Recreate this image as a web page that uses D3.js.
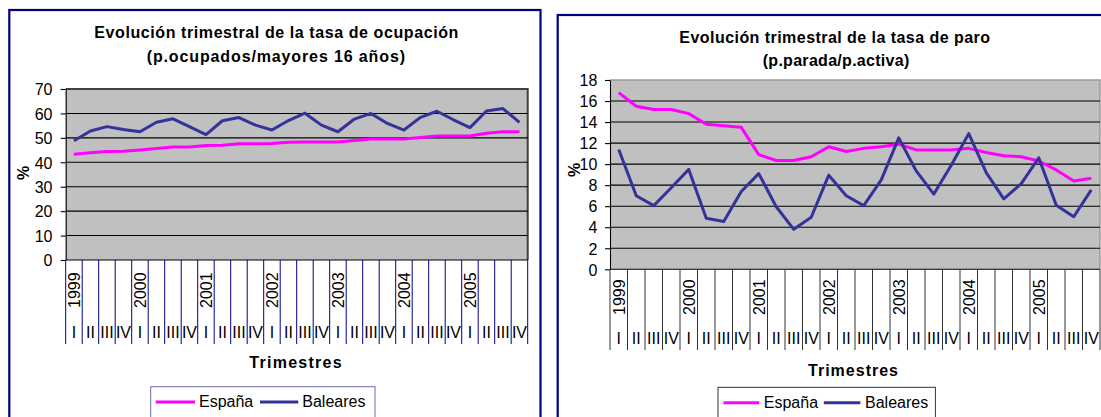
<!DOCTYPE html>
<html><head><meta charset="utf-8">
<script src="https://cdn.jsdelivr.net/npm/d3@7"></script>
<style>
body{margin:0;background:#fff;overflow:hidden}
text{font-family:"Liberation Sans",Arial,sans-serif;fill:#000}
</style>
</head><body>
<svg id="c" width="1101" height="417"></svg>
<script>
// ---------- DATA ----------
const years = ["1999","2000","2001","2002","2003","2004","2005"];
const quarterNames = ["I","II","III","IV"];
const seriesNames = ["España","Baleares"];

const ocupEspana   = [43.3,43.9,44.4,44.5,45.0,45.6,46.3,46.3,46.9,47.0,47.6,47.6,47.7,48.2,
                      48.3,48.3,48.3,48.9,49.5,49.5,49.5,50.1,50.8,50.8,50.8,51.9,52.5,52.5];
const ocupBaleares = [48.8,52.8,54.6,53.4,52.5,56.4,57.8,54.6,51.3,57.0,58.3,55.2,53.2,57.1,
                      60.1,55.2,52.5,57.7,60.0,55.9,53.2,58.4,60.9,57.4,54.2,61.0,62.0,56.3];
const ocupTicks = [0,10,20,30,40,50,60,70];

const paroEspana   = [16.8,15.5,15.2,15.2,14.8,13.8,13.65,13.5,10.9,10.35,10.35,10.7,11.65,11.2,
                      11.5,11.65,11.9,11.35,11.35,11.35,11.5,11.1,10.8,10.7,10.3,9.45,8.4,8.65];
const paroBaleares = [11.4,7.0,6.05,7.75,9.5,4.85,4.55,7.4,9.1,5.95,3.8,4.95,8.95,7.0,
                      6.05,8.5,12.5,9.35,7.15,9.9,12.9,9.2,6.7,8.15,10.6,6.1,5.0,7.55];
const paroTicks = [0,2,4,6,8,10,12,14,16,18];

const categories = years.flatMap(y => quarterNames.map(q => y + " " + q));

// ---------- DRAW ----------
const svg = d3.select("#c");
const colEsp = "#FF00FF", colBal = "#333399";

function drawChart(o){
  const g = svg.append("g");
  g.append("rect").attr("x",o.frame[0]).attr("y",o.frame[1]).attr("width",o.frame[2]).attr("height",o.frame[3])
    .attr("fill","#fff").attr("stroke","#000080").attr("stroke-width",2.2);

  // titles
  o.titles.forEach(t=>{
    g.append("text").attr("x",t.x).attr("y",t.y).attr("font-size",16).attr("font-weight","bold")
      .attr("textLength",t.len).attr("lengthAdjust","spacing").text(t.text);
  });

  const x = d3.scaleBand().domain(categories).range([o.x0,o.x1]).padding(0);
  const y = d3.scaleLinear().domain([0,o.ticks[o.ticks.length-1]]).range([o.yBot,o.yTop]);
  const bw = x.bandwidth();

  // plot area
  g.append("rect").attr("x",o.x0).attr("y",o.yTop).attr("width",o.x1-o.x0).attr("height",o.yBot-o.yTop)
    .attr("fill","#C0C0C0");
  g.append("path").attr("d",`M${o.x0},${o.yTop}H${o.x1}V${o.yBot}`).attr("fill","none")
    .attr("stroke",o.borderColor).attr("stroke-width",o.borderWidth);

  // gridlines
  o.ticks.slice(0,-1).forEach(v=>{
    g.append("line").attr("x1",o.x0).attr("x2",o.x1).attr("y1",y(v)).attr("y2",y(v))
      .attr("stroke","#000").attr("stroke-width",1.1);
  });

  // y axis
  const ya = g.append("g").attr("transform",`translate(${o.x0},0)`)
    .call(d3.axisLeft(y).tickValues(o.ticks).tickSize(5).tickSizeOuter(0).tickPadding(o.x0-5-o.labelX));
  ya.select(".domain").attr("stroke","#000").attr("stroke-width",1.1);
  ya.selectAll(".tick line").attr("stroke","#000").attr("stroke-width",1.1);
  ya.selectAll(".tick text").attr("font-size",16).attr("font-family","Liberation Sans, Arial, sans-serif")
    .attr("fill","#000").attr("dy","0.36em");

  // % label
  g.append("text").attr("transform",`translate(${o.pct[0]},${o.pct[1]}) rotate(-90)`)
    .attr("text-anchor","middle").attr("dy","0.35em").attr("font-size",16).attr("font-weight","bold").text("%");

  // x category separators
  const bounds = categories.map(c=>x(c)).concat([o.x1]);
  bounds.forEach(b=>{
    g.append("line").attr("x1",b).attr("x2",b).attr("y1",o.yBot).attr("y2",o.xTickBottom)
      .attr("stroke",o.tickColor).attr("stroke-width",1);
  });
  categories.forEach((c,i)=>{
    if(i%4===0){
      g.append("text").attr("transform",`translate(${x(c)+o.yearOff},${o.yearBottom}) rotate(-90)`)
        .attr("font-size",16).text(years[i/4]);
    }
    g.append("text").attr("x",x(c)+bw/2).attr("y",o.quarterY).attr("text-anchor","middle")
      .attr("font-size",16).text(quarterNames[i%4]);
  });

  // x title
  g.append("text").attr("x",o.xTitle[0]).attr("y",o.xTitle[1]).attr("font-size",16).attr("font-weight","bold")
    .attr("textLength",o.xTitle[2]).attr("lengthAdjust","spacing").text("Trimestres");

  // lines
  const line = d3.line().x((d,i)=>x(categories[i])+bw/2).y(d=>y(d));
  g.append("path").datum(o.esp).attr("d",line).attr("fill","none").attr("stroke",colEsp)
    .attr("stroke-width",3).attr("stroke-linejoin","round");
  g.append("path").datum(o.bal).attr("d",line).attr("fill","none").attr("stroke",colBal)
    .attr("stroke-width",3).attr("stroke-linejoin","round");

  // legend
  const L = o.legend;
  g.append("rect").attr("x",L.x).attr("y",L.y).attr("width",L.w).attr("height",50)
    .attr("fill","#fff").attr("stroke",o.legendBorder).attr("stroke-width",1);
  [colEsp,colBal].forEach((col,k)=>{
    g.append("line").attr("x1",L.lines[k][0]).attr("x2",L.lines[k][1]).attr("y1",L.ly).attr("y2",L.ly)
      .attr("stroke",col).attr("stroke-width",3);
    g.append("text").attr("x",L.tx[k]).attr("y",L.ty).attr("font-size",16).text(seriesNames[k]);
  });
}

drawChart({
  frame:[9.3,10,531.2,430],
  titles:[{text:"Evolución trimestral de la tasa de ocupación",x:94.3,y:37.7,len:364},
          {text:"(p.ocupados/mayores 16 años)",x:146.7,y:61.5,len:258.3}],
  x0:65.7,x1:527.7,yTop:89,yBot:260,
  ticks:ocupTicks,labelX:52.5,
  borderColor:"#404040",borderWidth:2,
  pct:[23,173],
  tickColor:"#000080",xTickBottom:344,yearOff:13.8,yearBottom:308,quarterY:338.3,
  xTitle:[249.3,368,92.4],
  esp:ocupEspana,bal:ocupBaleares,
  legend:{x:150.7,y:386.7,w:224.3,lines:[[155.7,195],[260,298.3]],ly:402,tx:[199,302.3],ty:407.3},
  legendBorder:"#6a6ab0"
});

drawChart({
  frame:[557.7,15,556,430],
  titles:[{text:"Evolución trimestral de la tasa de paro",x:679.3,y:42.7,len:310.7},
          {text:"(p.parada/p.activa)",x:762.7,y:65.7,len:146.6}],
  x0:610,x1:1100,yTop:80,yBot:269.3,
  ticks:paroTicks,labelX:597.3,
  borderColor:"#9a9a9a",borderWidth:1.5,
  pct:[574,170],
  tickColor:"#333",xTickBottom:350,yearOff:14.5,yearBottom:315,quarterY:344.3,
  xTitle:[808,376,90],
  esp:paroEspana,bal:paroBaleares,
  legend:{x:718,y:387.3,w:217.4,lines:[[723.4,759.3],[823.8,860.4]],ly:402.7,tx:[763.8,865],ty:408.3},
  legendBorder:"#333"
});
</script>
</body></html>
